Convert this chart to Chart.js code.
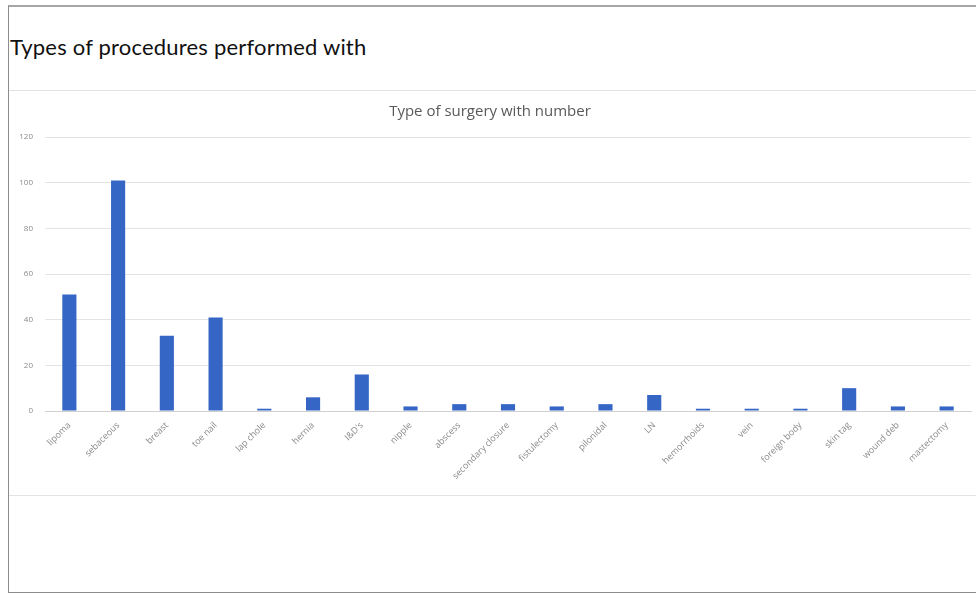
<!DOCTYPE html>
<html><head><meta charset="utf-8">
<script src="https://cdn.jsdelivr.net/npm/chart.js@4"></script>
<style>
html,body{margin:0;padding:0;background:#fff;width:976px;height:593px;overflow:hidden;}
#frame{position:absolute;left:8px;top:5px;width:980px;height:585px;border-top:2px solid #a6a6a6;border-left:1px solid #8c8c8c;border-bottom:1px solid #8c8c8c;}
#ttl{position:absolute;left:10px;top:33px;font-family:Lato,"Open Sans",sans-serif;font-size:22px;letter-spacing:0.2px;color:#111;white-space:nowrap;}
#box{position:absolute;left:9px;top:90px;width:967px;height:404px;border-top:1px solid #e3e3e3;border-bottom:1px solid #e3e3e3;}
canvas{display:block;}
</style></head>
<body>
<div id="frame"></div>
<div id="ttl">Types of procedures performed with</div>
<div id="box"><canvas id="c" width="967" height="404"></canvas></div>
<script>
const categories = ["lipoma","sebaceous","breast","toe nail","lap chole","hernia","I&D's","nipple","abscess","secondary closure","fistulectomy","pilonidal","LN","hemorrhoids","vein","foreign body","skin tag","wound deb","mastectomy"];
const counts = [51,101,33,41,1,6,16,2,3,3,2,3,7,1,1,1,10,2,2];
const yTicks = [0,20,40,60,80,100,120];
const chartTitle = "Type of surgery with number";

new Chart(document.getElementById('c'), {
  type: 'bar',
  data: { labels: categories, datasets: [{ label: 'Number', data: counts, backgroundColor: '#3566c6', barPercentage: 0.29, categoryPercentage: 1.0 }] },
  options: {
    responsive: false, animation: false,
    layout: { padding: { left: 0, right: 5, top: 0, bottom: 0 } },
    plugins: {
      legend: { display: false },
      tooltip: { enabled: false },
      title: { display: true, text: chartTitle, color: '#595959', font: { family: '"Open Sans", sans-serif', size: 15, weight: 'normal' }, padding: { top: 12, bottom: 16 } }
    },
    scales: {
      x: {
        grid: { display: false, drawTicks: false },
        border: { display: true, color: '#d0d0d0' },
        ticks: { maxRotation: 45, minRotation: 45, autoSkip: false, color: '#8a8a8a', font: { family: '"Open Sans", sans-serif', size: 9 }, padding: 9 },
        afterFit: s => { s.height = 84; }
      },
      y: {
        min: 0, max: 120,
        afterBuildTicks: s => { s.ticks = yTicks.map(v => ({ value: v })); },
        grid: { color: '#e3e3e3', drawTicks: false },
        border: { display: false },
        ticks: { color: '#8a8a8a', font: { family: '"Open Sans", sans-serif', size: 8 }, padding: 12 },
        afterFit: s => { s.width = 36; }
      }
    }
  }
});
</script>
</body></html>
